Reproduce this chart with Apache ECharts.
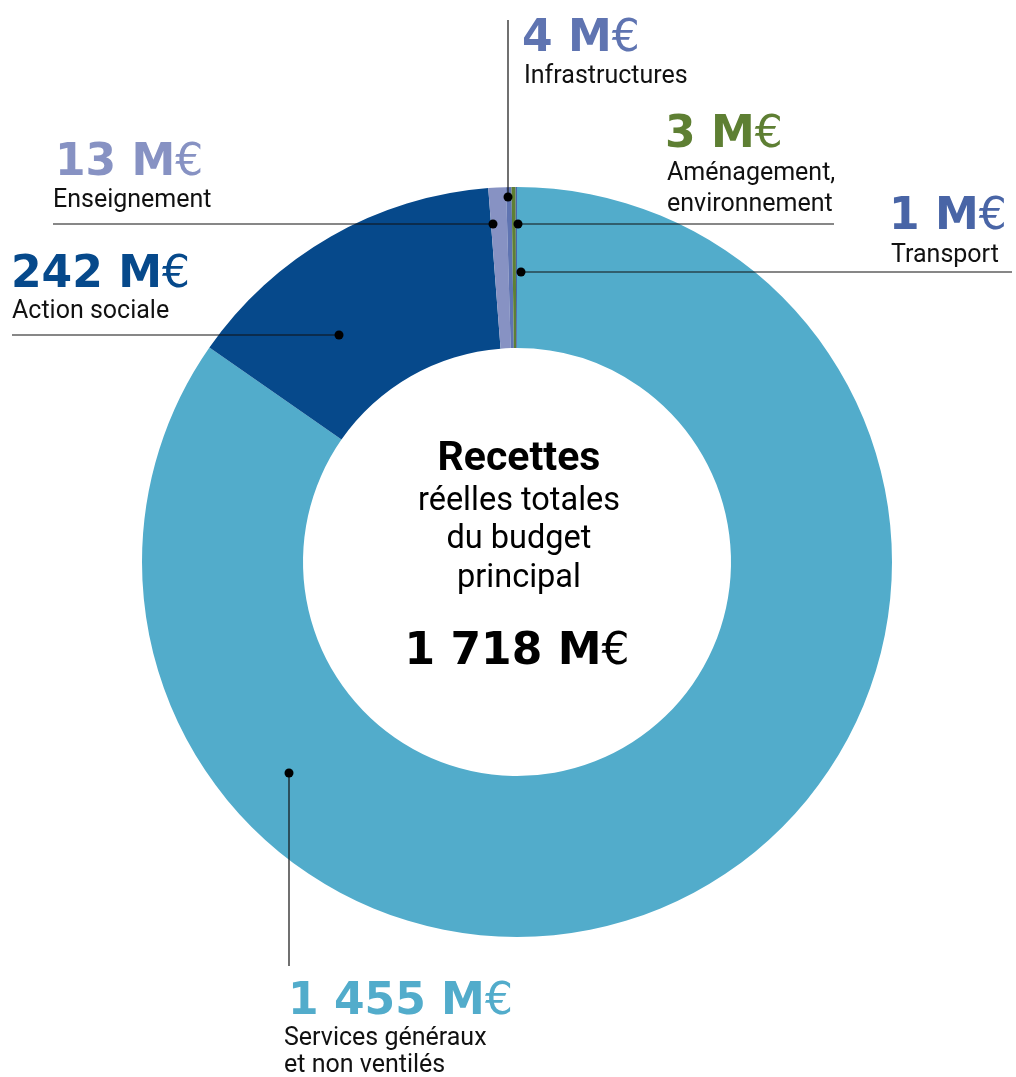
<!DOCTYPE html>
<html>
<head>
<meta charset="utf-8">
<script src="https://cdn.jsdelivr.net/npm/echarts@6/dist/echarts.min.js"></script>
<style>
html,body{margin:0;padding:0;background:#fff;}
#chart{width:1016px;height:1077px;}
</style>
</head>
<body>
<div id="chart"></div>
<script>
// ---- Data ----
const categories = ['Services généraux et non ventilés', 'Action sociale', 'Enseignement', 'Infrastructures', 'Aménagement, environnement', 'Transport'];
const values = [1455, 242, 13, 4, 3, 1];
const valueLabels = ['1 455', '242', '13', '4', '3', '1'];
const labelLines = [['Services généraux', 'et non ventilés'], ['Action sociale'], ['Enseignement'], ['Infrastructures'], ['Aménagement,', 'environnement'], ['Transport']];
const totalLabel = '1 718';
const centerLines = ['Recettes', 'réelles totales', 'du budget', 'principal'];

// ---- Styles / layout ----
const colors = ['#52ACCB', '#06498B', '#8792C3', '#5F74B1', '#5E7F33', '#4A66A8'];
const numColors = ['#52ACCB', '#06498B', '#8792C3', '#5F74B1', '#5E7F33', '#4965A6'];
const CX = 517, CY = 562;
const NUM_FONT = '"DejaVu Sans"';
const BODY_FONT = 'Roboto';
const NUM_SIZE = 44, BODY_SIZE = 25;
// per label: x, number baseline, body baseline(s), dot, line
const ann = [
  {x: 288, nb: 1015, bx: 284, bb: [1046, 1073], dot: [289, 773], line: [[289, 773], [289, 966]]},
  {x: 11, nb: 288, bx: 12, bb: [319], dot: [339, 335], line: [[12, 335], [339, 335]]},
  {x: 55, nb: 176, bx: 53, bb: [208], dot: [493, 224], line: [[53, 224], [493, 224]]},
  {x: 522, nb: 52, bx: 524, bb: [84], dot: [508, 197], line: [[508, 20], [508, 197]]},
  {x: 665, nb: 148, bx: 667, bb: [181, 212], dot: [518, 224], line: [[518, 224], [834, 224]]},
  {x: 889, nb: 230, bx: 891, bb: [263], dot: [521, 272], line: [[521, 272], [1012, 272]]}
];

function bl(baseline, size) { return baseline - 0.29 * size; }

const graphics = [];
ann.forEach((a, i) => {
  graphics.push({
    type: 'polyline', z: 10, silent: true,
    shape: {points: a.line},
    style: {stroke: '#111', lineWidth: 1.2, fill: null}
  });
  graphics.push({
    type: 'circle', z: 11, silent: true,
    shape: {cx: a.dot[0], cy: a.dot[1], r: 4.5},
    style: {fill: '#000'}
  });
  graphics.push({
    type: 'text', z: 12, silent: true,
    x: a.x, y: bl(a.nb, NUM_SIZE),
    style: {
      text: '{n|' + valueLabels[i] + ' M}{e|€}',
      verticalAlign: 'middle', align: 'left',
      rich: {
        n: {font: '700 ' + NUM_SIZE + 'px ' + NUM_FONT, fill: numColors[i]},
        e: {font: '400 ' + NUM_SIZE + 'px ' + NUM_FONT, fill: numColors[i]}
      }
    }
  });
  labelLines[i].forEach((t, k) => {
    graphics.push({
      type: 'text', z: 12, silent: true,
      x: a.bx, y: bl(a.bb[k], BODY_SIZE),
      style: {text: t, font: '400 ' + BODY_SIZE + 'px ' + BODY_FONT, fill: '#111', verticalAlign: 'middle', align: 'left'}
    });
  });
});

// centre text
const centreBaselines = [472, 511, 549, 588];
centerLines.forEach((t, k) => {
  const size = k === 0 ? 41 : 32.5;
  graphics.push({
    type: 'text', z: 12, silent: true,
    x: CX + 2, y: bl(centreBaselines[k], size),
    style: {text: t, font: (k === 0 ? '700 ' : '400 ') + size + 'px ' + BODY_FONT, fill: '#000', align: 'center', verticalAlign: 'middle'}
  });
});
graphics.push({
  type: 'text', z: 12, silent: true,
  x: CX, y: bl(665, NUM_SIZE),
  style: {
    text: '{n|' + totalLabel + ' M}{e|€}',
    align: 'center', verticalAlign: 'middle',
    rich: {
      n: {font: '700 ' + NUM_SIZE + 'px ' + NUM_FONT, fill: '#000'},
      e: {font: '400 ' + NUM_SIZE + 'px ' + NUM_FONT, fill: '#000'}
    }
  }
});

const chart = echarts.init(document.getElementById('chart'), null, {renderer: 'canvas'});
chart.setOption({
  backgroundColor: '#fff',
  animation: false,
  series: [{
    type: 'pie',
    center: [CX, CY],
    radius: [214, 375],
    startAngle: 90,
    clockwise: true,
    avoidLabelOverlap: false,
    label: {show: false},
    labelLine: {show: false},
    emphasis: {disabled: true},
    itemStyle: {borderWidth: 0},
    data: categories.map((c, i) => ({name: c, value: values[i], itemStyle: {color: colors[i]}}))
  }],
  graphic: graphics
});
</script>
</body>
</html>
